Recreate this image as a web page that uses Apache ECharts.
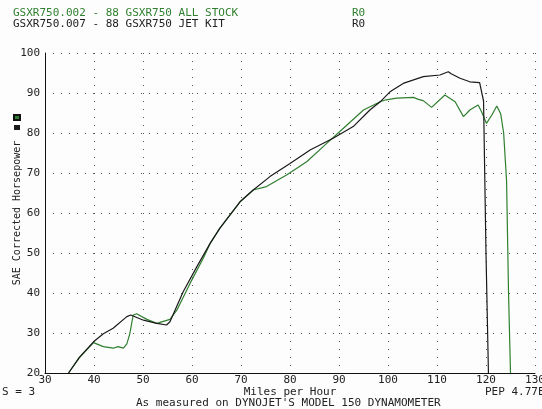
<!DOCTYPE html>
<html>
<head>
<meta charset="utf-8">
<script src="https://cdn.jsdelivr.net/npm/echarts@6/dist/echarts.min.js"></script>
<style>
  html, body { margin: 0; padding: 0; background: #fdfdfd; }
  #chart { width: 542px; height: 409px; }
</style>
</head>
<body>
<div id="chart"></div>
<script>
// GSXR750 all stock (green)
const stockMph = [34.8, 37, 39.9, 41.9, 43.9, 44.9, 46.0, 46.7, 47.3, 48.0, 48.7, 50.8, 52.8, 55.5, 56.9, 59.6, 62.3, 63.7, 65.7, 69.8, 72.5, 75.2, 79.3, 83.4, 87.5, 90.9, 95, 98.4, 99.6, 101.8, 105.2, 106.2, 107.2, 108.9, 111.6, 113.7, 115.4, 116.7, 118.4, 119.1, 120.1, 121.2, 122.2, 123.0, 123.6, 124.2, 124.6, 125.0];
const stockHp = [20, 23.8, 27.6, 26.6, 26.2, 26.6, 26.2, 27.3, 29.8, 34.5, 34.8, 33.4, 32.4, 33.4, 35.7, 42.4, 48.7, 52.4, 56.2, 62.8, 65.75, 66.6, 69.5, 72.8, 77.4, 81.2, 85.75, 87.8, 88.3, 88.7, 88.9, 88.4, 88.1, 86.4, 89.5, 87.8, 84.1, 85.75, 87, 85.3, 82.4, 84.5, 86.75, 84.8, 80, 68, 40, 20];

// GSXR750 jet kit (black)
const jetMph = [34.8, 37, 39.9, 41.9, 43.9, 46.7, 47.5, 50.1, 52.8, 54.8, 55.5, 58.2, 61.0, 63.7, 65.7, 69.8, 72.5, 75.9, 80, 84.1, 88.8, 92.9, 96.3, 98.4, 100.4, 103.1, 107.2, 110.6, 112.3, 112.9, 114.7, 116.7, 118.7, 119.1, 119.5, 120.0, 120.5];
const jetHp = [20, 23.9, 27.8, 29.8, 31.2, 34.1, 34.5, 33.2, 32.4, 32, 32.8, 40.3, 46.6, 52.4, 56.2, 62.8, 65.75, 69.1, 72.4, 75.75, 78.7, 81.6, 85.75, 87.8, 90.3, 92.4, 94.1, 94.5, 95.3, 94.8, 93.7, 92.8, 92.6, 93.0, 88, 50, 20];

const GREEN = '#2f7f2f';
const FONT = 'DejaVu Sans Mono';
const TXT = '11px ' + FONT;

function pairs(xs, ys) {
  return xs.map((x, i) => [x, ys[i]]);
}

const chart = echarts.init(document.getElementById('chart'));

chart.setOption({
  backgroundColor: '#fdfdfd',
  animation: false,
  textStyle: { fontFamily: FONT },
  grid: { left: 45, right: 7, top: 53, bottom: 36, outerBoundsMode: 'none', containLabel: false },
  legend: {
    orient: 'vertical',
    left: 13,
    top: 114,
    padding: 0,
    itemGap: 4,
    itemWidth: 6,
    itemHeight: 5,
    icon: 'rect',
    formatter: () => '',
    data: ['ALL STOCK', 'JET KIT']
  },
  xAxis: {
    type: 'value',
    min: 30, max: 130, interval: 10,
    name: 'Miles per Hour',
    nameLocation: 'middle',
    nameGap: 14,
    nameMoveOverlap: false,
    nameTextStyle: { fontFamily: FONT, fontSize: 11, color: '#222' },
    axisLine: { lineStyle: { color: '#111', width: 1 } },
    axisTick: { show: false },
    axisLabel: { fontFamily: FONT, fontSize: 11, color: '#222', margin: 2 },
    splitLine: { show: true, lineStyle: { color: '#555', type: [1, 7], width: 1 } }
  },
  yAxis: {
    type: 'value',
    min: 20, max: 100, interval: 10,
    name: 'SAE Corrected Horsepower',
    nameLocation: 'middle',
    nameGap: 23,
    nameMoveOverlap: false,
    nameTextStyle: { fontFamily: FONT, fontSize: 10, color: '#222' },
    axisLine: { show: true, lineStyle: { color: '#111', width: 1 } },
    axisTick: { show: false },
    axisLabel: { fontFamily: FONT, fontSize: 11, color: '#222', margin: 5 },
    splitLine: { show: true, lineStyle: { color: '#555', type: [1, 7], width: 1 } }
  },
  series: [
    {
      name: 'ALL STOCK',
      type: 'line',
      data: pairs(stockMph, stockHp),
      showSymbol: false,
      smooth: false,
      color: GREEN,
      lineStyle: { color: GREEN, width: 1.2 },
      itemStyle: { color: GREEN, borderColor: '#111', borderWidth: 1 }
    },
    {
      name: 'JET KIT',
      type: 'line',
      data: pairs(jetMph, jetHp),
      showSymbol: false,
      smooth: false,
      color: '#1a1a1a',
      lineStyle: { color: '#1a1a1a', width: 1.2 },
      itemStyle: { color: '#1a1a1a' }
    }
  ],
  graphic: [
    { type: 'text', left: 13, top: 8, style: { text: 'GSXR750.002 - 88 GSXR750 ALL STOCK', fill: GREEN, font: TXT } },
    { type: 'text', left: 352, top: 8, style: { text: 'R0', fill: GREEN, font: TXT } },
    { type: 'text', left: 13, top: 19, style: { text: 'GSXR750.007 - 88 GSXR750 JET KIT', fill: '#222', font: TXT } },
    { type: 'text', left: 352, top: 19, style: { text: 'R0', fill: '#222', font: TXT } },
    { type: 'text', left: 2, top: 387, style: { text: 'S = 3', fill: '#222', font: TXT } },
    { type: 'text', left: 485, top: 387, style: { text: 'PEP 4.77E', fill: '#222', font: TXT } },
    { type: 'text', left: 136, top: 398, style: { text: "As measured on DYNOJET'S MODEL 150 DYNAMOMETER", fill: '#222', font: TXT } }
  ]
});
</script>
</body>
</html>
